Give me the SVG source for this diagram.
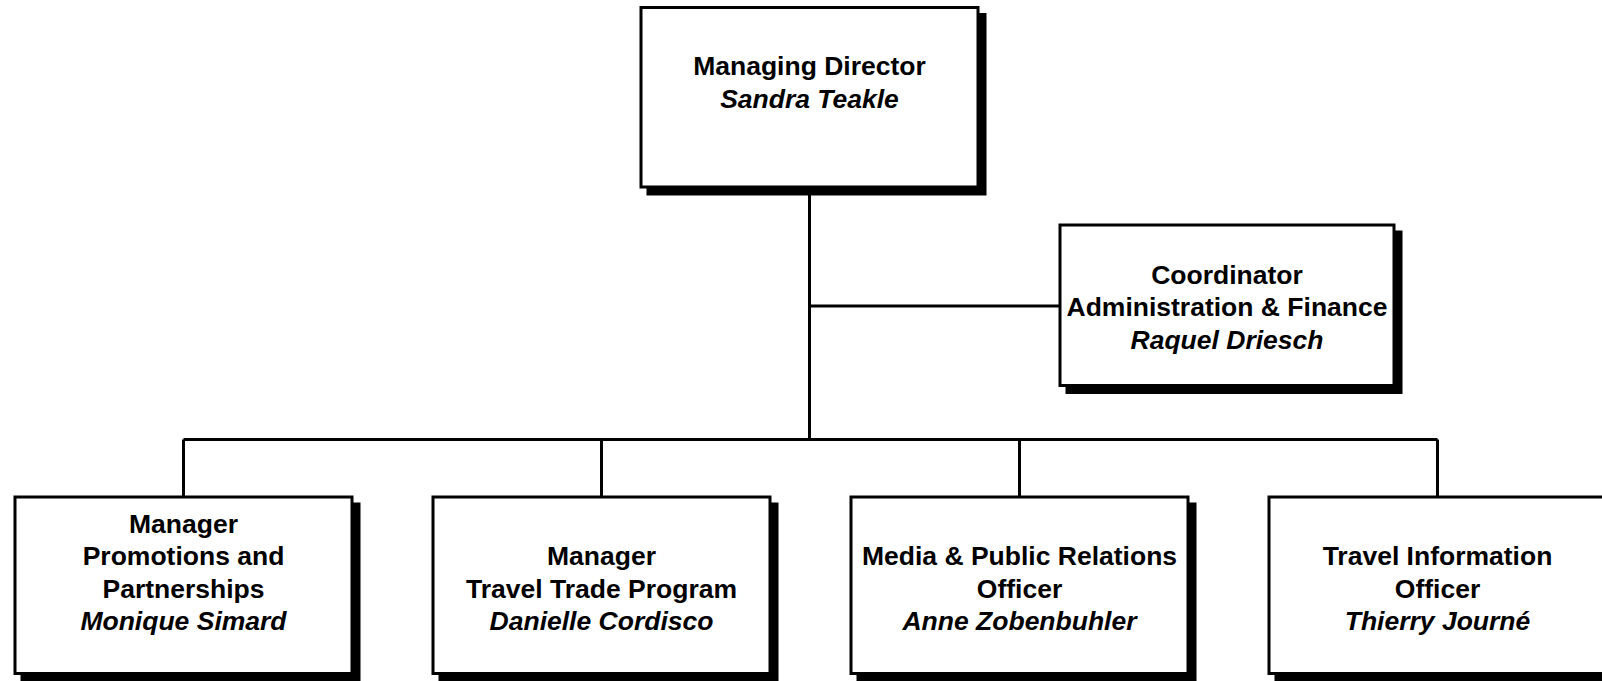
<svg xmlns="http://www.w3.org/2000/svg" width="1602" height="681" viewBox="0 0 1602 681">
<style>
.bg{fill:#fff}
.shadow{fill:#000;stroke:#000;stroke-width:3}
.box{fill:#fff;stroke:#000;stroke-width:3}
.conn{stroke:#000;stroke-width:3;fill:none}
text{font-family:"Liberation Sans",Arial,sans-serif;font-size:26.5px;font-weight:bold;fill:#000;text-anchor:middle}
.name{font-style:italic}
</style>
<rect class="bg" x="0" y="0" width="1602" height="681"/>
<g id="connectors">
<line class="conn" x1="809.5" y1="187" x2="809.5" y2="439.5"/>
<line class="conn" x1="809.5" y1="306" x2="1060" y2="306"/>
<line class="conn" x1="183.5" y1="439.5" x2="1437.5" y2="439.5"/>
<line class="conn" x1="183.5" y1="439.5" x2="183.5" y2="497"/>
<line class="conn" x1="601.5" y1="439.5" x2="601.5" y2="497"/>
<line class="conn" x1="1019.5" y1="439.5" x2="1019.5" y2="497"/>
<line class="conn" x1="1437.5" y1="439.5" x2="1437.5" y2="497"/>
</g>
<g id="managing-director">
<rect class="shadow" x="648" y="14.5" width="337" height="179.5"/>
<rect class="box" x="641" y="7.5" width="337" height="179.5"/>
<text x="809.5" y="75">Managing Director</text>
<text class="name" x="809.5" y="107.5">Sandra Teakle</text>
</g>
<g id="coordinator">
<rect class="shadow" x="1067" y="232" width="334" height="160.5"/>
<rect class="box" x="1060" y="225" width="334" height="160.5"/>
<text x="1227" y="284">Coordinator</text>
<text x="1227" y="316">Administration &amp; Finance</text>
<text class="name" x="1227" y="348.5">Raquel Driesch</text>
</g>
<g id="manager-promotions">
<rect class="shadow" x="22" y="504" width="337" height="176.5"/>
<rect class="box" x="15" y="497" width="337" height="176.5"/>
<text x="183.5" y="532.5">Manager</text>
<text x="183.5" y="565">Promotions and</text>
<text x="183.5" y="597.5">Partnerships</text>
<text class="name" x="183.5" y="630">Monique Simard</text>
</g>
<g id="manager-travel-trade">
<rect class="shadow" x="440" y="504" width="337" height="176.5"/>
<rect class="box" x="433" y="497" width="337" height="176.5"/>
<text x="601.5" y="565">Manager</text>
<text x="601.5" y="597.5">Travel Trade Program</text>
<text class="name" x="601.5" y="630">Danielle Cordisco</text>
</g>
<g id="media-officer">
<rect class="shadow" x="858" y="504" width="337" height="176.5"/>
<rect class="box" x="851" y="497" width="337" height="176.5"/>
<text x="1019.5" y="565">Media &amp; Public Relations</text>
<text x="1019.5" y="597.5">Officer</text>
<text class="name" x="1019.5" y="630">Anne Zobenbuhler</text>
</g>
<g id="travel-info-officer">
<rect class="shadow" x="1276" y="504" width="337" height="176.5"/>
<rect class="box" x="1269" y="497" width="337" height="176.5"/>
<text x="1437.5" y="565">Travel Information</text>
<text x="1437.5" y="597.5">Officer</text>
<text class="name" x="1437.5" y="630">Thierry Journé</text>
</g>
</svg>
